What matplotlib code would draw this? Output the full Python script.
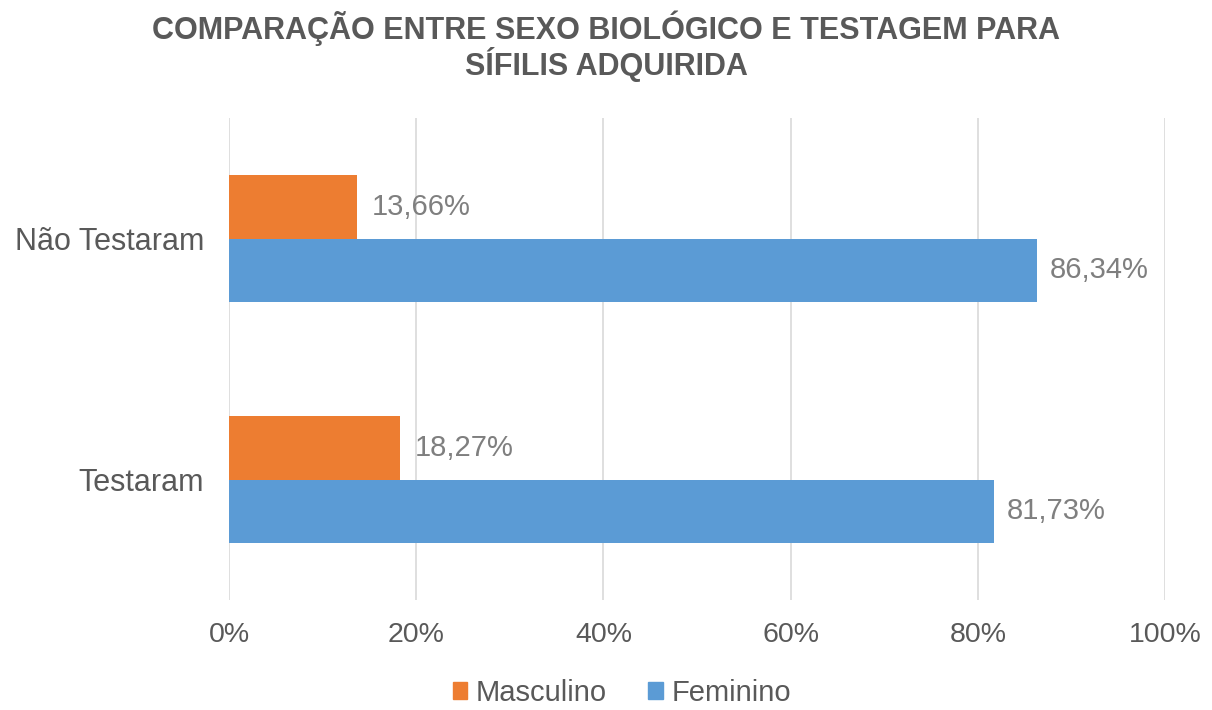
import matplotlib
matplotlib.use('Agg')
import matplotlib.pyplot as plt
from matplotlib.patches import Patch
import numpy as np

categorias = ['Testaram', 'Não Testaram']
masculino = [18.27, 13.66]
feminino = [81.73, 86.34]
rotulos_masc = ['18,27%', '13,66%']
rotulos_fem = ['81,73%', '86,34%']
ticks = [0, 20, 40, 60, 80, 100]

plt.rcParams['font.family'] = ['Liberation Sans', 'DejaVu Sans']

cor_masc = '#ED7D31'
cor_fem = '#5B9BD5'
cinza = '#595959'

fig = plt.figure(figsize=(12.12, 7.10), dpi=100)
ax = fig.add_axes([229/1212, 110/710, 936/1212, 482/710])

y = np.arange(len(categorias))
h = 0.265

ax.barh(y + h/2, masculino, height=h, color=cor_masc, zorder=3)
ax.barh(y - h/2, feminino, height=h, color=cor_fem, zorder=3)

for i in range(len(categorias)):
    ax.text(masculino[i] + 1.6, y[i] + h/2, rotulos_masc[i], va='center', ha='left',
            fontsize=21, color='#7F7F7F')
    ax.text(feminino[i] + 1.4, y[i] - h/2, rotulos_fem[i], va='center', ha='left',
            fontsize=21, color='#7F7F7F')

ax.set_xlim(0, 100)
ax.set_ylim(-0.5, 1.5)
ax.set_xticks(ticks)
ax.set_xticklabels([f'{t}%' for t in ticks], fontsize=20.5, color=cinza)
ax.set_yticks(y)
ax.set_yticklabels(categorias, fontsize=22, color=cinza)
ax.tick_params(length=0)
ax.tick_params(axis='y', pad=18)
ax.tick_params(axis='x', pad=16)
ax.grid(True, axis='x', color='#D9D9D9', linewidth=1.2, zorder=0)
for s in ax.spines.values():
    s.set_visible(False)

fig.text(0.5, 0.935, 'COMPARAÇÃO ENTRE SEXO BIOLÓGICO E TESTAGEM PARA\nSÍFILIS ADQUIRIDA',
         ha='center', va='center', fontsize=22, fontweight='bold', color=cinza,
         linespacing=1.05)

handles = [Patch(color=cor_masc, label='Masculino'), Patch(color=cor_fem, label='Feminino')]
fig.legend(handles=handles, loc='center', bbox_to_anchor=(0.513, 0.024), ncol=2, frameon=False,
           fontsize=21, labelcolor=cinza, handlelength=0.5, handleheight=0.5,
           handletextpad=0.3, columnspacing=1.4)

fig.savefig('out.png', dpi=100)
